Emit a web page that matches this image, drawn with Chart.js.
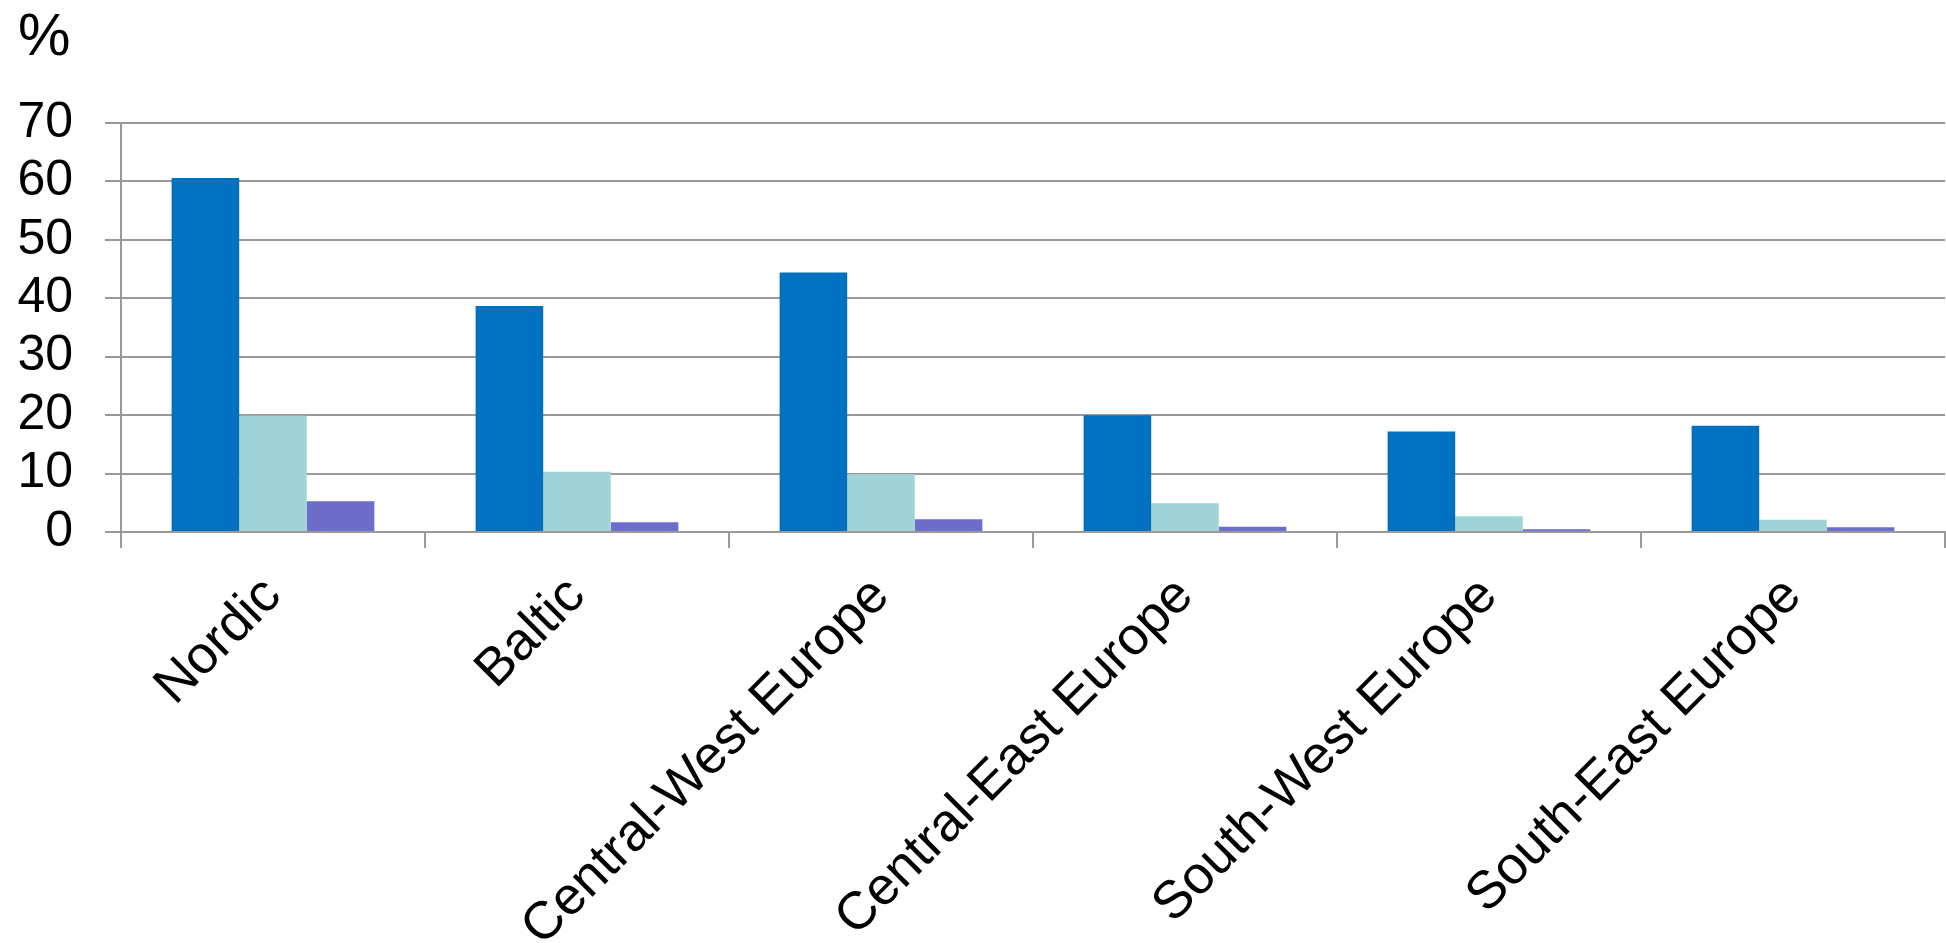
<!DOCTYPE html>
<html>
<head>
<meta charset="utf-8">
<script src="https://cdn.jsdelivr.net/npm/chart.js@4.4.1/dist/chart.umd.min.js"></script>
<style>
  html, body { margin: 0; padding: 0; background: #fff; }
  #wrap { position: relative; width: 1946px; height: 943px; }
</style>
</head>
<body>
<div id="wrap"><canvas id="chart"></canvas></div>
<script>
const regions = ["Nordic", "Baltic", "Central-West Europe", "Central-East Europe", "South-West Europe", "South-East Europe"];
const seriesA = [60.6, 38.7, 44.4, 20.0, 17.2, 18.2];
const seriesB = [19.9, 10.3, 9.9, 4.9, 2.7, 2.1];
const seriesC = [5.25, 1.65, 2.2, 0.9, 0.45, 0.8];
const yTicks = [0, 10, 20, 30, 40, 50, 60, 70];

const FONT = "'Liberation Sans', Arial, sans-serif";
const GRID = "#999999";

// unit label drawn top left
const percentLabel = {
  id: "percentLabel",
  afterDraw(chart) {
    const ctx = chart.ctx;
    ctx.save();
    ctx.font = "59px " + FONT;
    ctx.fillStyle = "#000";
    ctx.textBaseline = "alphabetic";
    ctx.fillText("%", 18, 55);
    ctx.restore();
  }
};

new Chart(document.getElementById("chart"), {
  type: "bar",
  data: {
    labels: regions,
    datasets: [
      { label: "A", data: seriesA, backgroundColor: "#0070C0" },
      { label: "B", data: seriesB, backgroundColor: "#A1D4D8" },
      { label: "C", data: seriesC, backgroundColor: "#6D6DCC" }
    ]
  },
  options: {
    responsive: true,
    maintainAspectRatio: false,
    animation: false,
    layout: { padding: { top: 123, right: 1, left: 0, bottom: 0 } },
    datasets: { bar: { categoryPercentage: 0.667, barPercentage: 1.0, borderWidth: 0 } },
    plugins: {
      legend: { display: false },
      tooltip: { enabled: false }
    },
    scales: {
      x: {
        grid: { drawOnChartArea: false, drawTicks: true, tickLength: 16, color: GRID, lineWidth: 2 },
        border: { display: true, color: GRID, width: 2 },
        ticks: {
          color: "#000",
          font: { family: FONT, size: 53 },
          maxRotation: 45,
          minRotation: 45,
          autoSkip: false,
          padding: 17
        },
        afterFit(scale) { scale.height = 411; }
      },
      y: {
        min: 0,
        max: 70,
        afterBuildTicks(scale) { scale.ticks = yTicks.map(v => ({ value: v })); },
        grid: { color: GRID, lineWidth: 2, tickLength: 16 },
        border: { display: true, color: GRID, width: 2 },
        ticks: {
          color: "#000",
          font: { family: FONT, size: 50 },
          autoSkip: false,
          padding: 32
        },
        afterFit(scale) { scale.width = 121; }
      }
    }
  },
  plugins: [percentLabel]
});
</script>
</body>
</html>
